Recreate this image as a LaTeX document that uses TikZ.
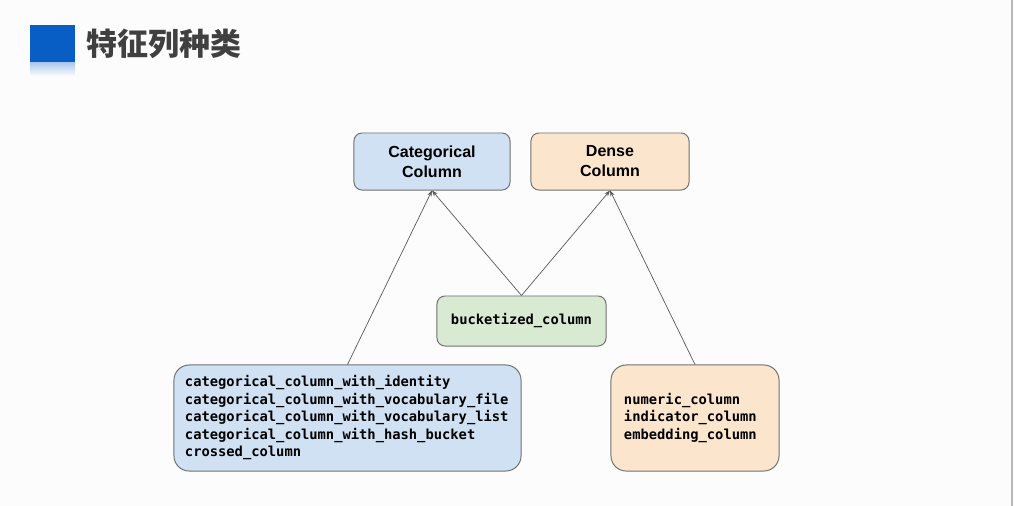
\documentclass[tikz,border=0pt]{standalone}
\usepackage{fontspec}
\setsansfont{Liberation Sans}
\setmonofont{DejaVu Sans Mono}
\newfontfamily\cjk{Noto Sans CJK SC}
\usetikzlibrary{arrows.meta, positioning}
\definecolor{catblue}{RGB}{207, 225, 243}
\definecolor{densecream}{RGB}{252, 229, 205}
\definecolor{bucketgreen}{RGB}{217, 234, 211}
\definecolor{titleblue}{RGB}{8, 94, 196}
\definecolor{titlegray}{RGB}{64, 64, 64}
\definecolor{rimgray}{RGB}{112, 112, 112}

\begin{document}
\begin{tikzpicture}[
    x=0.025cm, y=-0.025cm,
    kotak/.style={draw=rimgray, line width=0.7pt, rounded corners=0.2cm,
                  align=center, font=\fontsize{11.4}{14.2}\selectfont\sffamily\bfseries},
    daftar/.style={draw=rimgray, line width=0.7pt, rounded corners=0.38cm,
                   align=left, minimum height=2.65cm,
                   font=\fontsize{9.8}{12.45}\selectfont\ttfamily\bfseries},
    panah/.style={-{Stealth[length=1.5mm, width=1.1mm]}, line width=0.5pt, black!65}
  ]
    % latar dan batas halaman
    \useasboundingbox (0,0) rectangle (1014,506);
    \fill[black!1] (0,0) rectangle (1014,506);
    \fill[black!28] (1011,0) rectangle (1013,506);
    % judul
    \fill[titleblue] (30,25) rectangle (75,62);
    \shade[top color=titleblue!35, bottom color=black!1] (30,62) rectangle (75,76);
    \node[anchor=west, text=titlegray, font=\fontsize{22}{26}\selectfont\cjk\bfseries]
      (judul) at (82,44) {特征列种类};
    % kotak utama
    \node[kotak, fill=catblue, minimum width=3.9cm, minimum height=1.425cm]
      (kategori) at (432,161.5) {Categorical\\Column};
    \node[kotak, fill=densecream, minimum width=3.95cm, minimum height=1.425cm]
      (padat) at (610,161.5) {Dense\\Column};
    \node[kotak, fill=bucketgreen, minimum width=4.225cm, minimum height=1.25cm,
          font=\fontsize{9.8}{12.45}\selectfont\ttfamily\bfseries]
      (ember) at (521.5,321) {bucketized\_column};
    % daftar kolom
    \node[daftar, fill=catblue, text width=8.125cm, inner xsep=0.275cm]
      (daftarkat) at (347.5,418) {categorical\_column\_with\_identity\\
        categorical\_column\_with\_vocabulary\_file\\
        categorical\_column\_with\_vocabulary\_list\\
        categorical\_column\_with\_hash\_bucket\\
        crossed\_column};
    \node[daftar, fill=densecream, text width=3.55cm, inner xsep=0.325cm]
      (daftarpadat) at (695,418) {numeric\_column\\
        indicator\_column\\
        embedding\_column};
    % panah
    \draw[panah] (daftarkat.north) -- (kategori.south);
    \draw[panah] (ember.north) -- (kategori.south);
    \draw[panah] (ember.north) -- (padat.south);
    \draw[panah] (daftarpadat.north) -- (padat.south);
  \end{tikzpicture}
\end{document}
